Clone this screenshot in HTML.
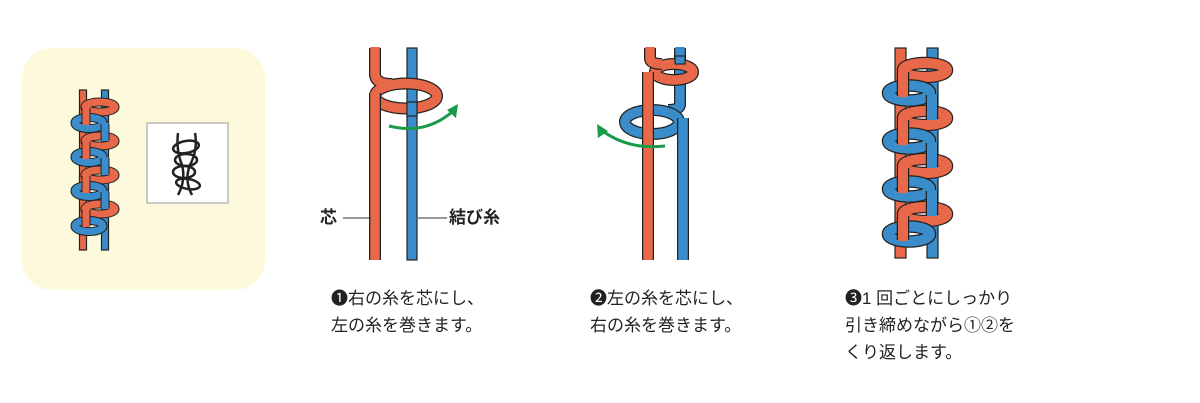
<!DOCTYPE html>
<html><head><meta charset="utf-8"><style>
body{margin:0;background:#fff;width:1200px;height:403px;overflow:hidden;font-family:"Liberation Sans","Noto Sans CJK JP",sans-serif}
svg{position:absolute;left:0;top:0}
.t{position:absolute;font-size:17px;line-height:27px;color:#222;white-space:nowrap}
</style></head><body>
<svg width="1200" height="403" viewBox="0 0 1200 403">
<defs>
<g id="rl"><ellipse rx="22" ry="7" fill="none" stroke="#222" stroke-width="12.5"/><ellipse rx="22" ry="7" fill="none" stroke="#e8694a" stroke-width="10"/></g>
<g id="bl"><ellipse rx="21" ry="7.5" fill="none" stroke="#222" stroke-width="12.5"/><ellipse rx="21" ry="7.5" fill="none" stroke="#3a8ccb" stroke-width="10"/></g>
<g id="rv"><path d="M0 2 V26" stroke="#222" stroke-width="12.5"/><path d="M0 1 V27" stroke="#e8694a" stroke-width="10"/></g>
<g id="bv"><path d="M0 2 V26" stroke="#222" stroke-width="12.5"/><path d="M0 1 V27" stroke="#3a8ccb" stroke-width="10"/></g>
<g id="srl"><ellipse rx="15" ry="5" fill="none" stroke="#222" stroke-width="9"/><ellipse rx="15" ry="5" fill="none" stroke="#e8694a" stroke-width="7"/></g>
<g id="sbl"><ellipse rx="14" ry="5.5" fill="none" stroke="#222" stroke-width="9"/><ellipse rx="14" ry="5.5" fill="none" stroke="#3a8ccb" stroke-width="7"/></g>
<g id="srv"><path d="M0 1 V17" stroke="#222" stroke-width="9"/><path d="M0 0 V18" stroke="#e8694a" stroke-width="7"/></g>
<g id="sbv"><path d="M0 1 V17" stroke="#222" stroke-width="9"/><path d="M0 0 V18" stroke="#3a8ccb" stroke-width="7"/></g>
</defs>
<rect x="22" y="48" width="243" height="242" rx="30" fill="#fdf9dc"/>
<rect x="147" y="123" width="81" height="80" fill="#fff" stroke="#999" stroke-width="1"/>
<g fill="none" stroke="#222" stroke-width="2.5">
<path d="M178 133 Q176 150 182 165 Q186 180 178 195 M195 133 Q198 150 190 165 Q184 180 192 195"/>
<ellipse cx="186" cy="147" rx="13" ry="6" transform="rotate(-10 186 147)"/><ellipse cx="186" cy="160" rx="11" ry="6"/><ellipse cx="184" cy="172" rx="11" ry="6"/><ellipse cx="188" cy="184" rx="12" ry="5" transform="rotate(10 188 184)"/>
</g>
<!-- left chain -->
<rect x="79.5" y="90" width="7" height="160" fill="#e8694a" stroke="#222" stroke-width="1.2"/>
<rect x="101.5" y="90" width="7" height="160" fill="#3a8ccb" stroke="#222" stroke-width="1.2"/>
<use href="#srl" x="100" y="107"/><use href="#srl" x="100" y="141"/><use href="#srl" x="100" y="175"/><use href="#srl" x="100" y="209"/>
<use href="#sbl" x="89" y="123"/><use href="#sbl" x="89" y="157"/><use href="#sbl" x="89" y="191"/><use href="#sbl" x="89" y="226"/>
<use href="#srv" x="86" y="107"/><use href="#srv" x="86" y="141"/><use href="#srv" x="86" y="175"/><use href="#srv" x="86" y="209"/>
<use href="#sbv" x="105" y="123"/><use href="#sbv" x="105" y="157"/><use href="#sbv" x="105" y="191"/>
<!-- step1 -->
<rect x="407" y="48" width="10" height="212" fill="#3a8ccb" stroke="#222" stroke-width="1.2"/>
<path d="M375 48 V74 Q375 84 392 84" fill="none" stroke="#222" stroke-width="12"/>
<ellipse cx="406" cy="96" rx="31" ry="12.5" fill="none" stroke="#222" stroke-width="12"/>
<ellipse cx="406" cy="96" rx="31" ry="12.5" fill="none" stroke="#e8694a" stroke-width="9.5"/>
<path d="M375 47 V74 Q375 84 392 84" fill="none" stroke="#e8694a" stroke-width="9.5"/>
<rect x="407" y="102" width="10" height="14" fill="#3a8ccb" stroke="#222" stroke-width="1.2"/>
<path d="M375 93 V260" stroke="#222" stroke-width="12"/><path d="M375 92 V260" stroke="#e8694a" stroke-width="9.5"/>
<path d="M389 126 Q425 135 452 112" fill="none" stroke="#1a9a4a" stroke-width="3"/>
<path d="M458 104 L447 110 L456 118 Z" fill="#1a9a4a"/>
<path d="M343 218 H371 M418 218 H447" stroke="#333" stroke-width="1"/>
<!-- step2 -->
<path d="M680 48 V104 Q680 110 668 110" fill="none" stroke="#222" stroke-width="12"/>
<path d="M680 47 V104 Q680 110 668 110" fill="none" stroke="#3a8ccb" stroke-width="9.5"/>
<ellipse cx="674" cy="72" rx="19" ry="8" fill="none" stroke="#222" stroke-width="12"/>
<ellipse cx="674" cy="72" rx="19" ry="8" fill="none" stroke="#e8694a" stroke-width="9.5"/>
<rect x="675" y="56" width="10" height="8" fill="#3a8ccb" stroke="#222" stroke-width="1.2"/>
<path d="M650 48 V58 Q650 64 662 64" fill="none" stroke="#222" stroke-width="12"/>
<path d="M650 47 V58 Q650 64 662 64" fill="none" stroke="#e8694a" stroke-width="9.5"/>
<ellipse cx="652" cy="122" rx="27" ry="12" fill="none" stroke="#222" stroke-width="12"/>
<ellipse cx="652" cy="122" rx="27" ry="12" fill="none" stroke="#3a8ccb" stroke-width="9.5"/>
<path d="M648 72 V260" stroke="#222" stroke-width="12"/><path d="M648 72 V260" stroke="#e8694a" stroke-width="9.5"/>
<path d="M683 118 V260" stroke="#222" stroke-width="12"/><path d="M683 118 V260" stroke="#3a8ccb" stroke-width="9.5"/>
<path d="M665 146 Q630 150 604 132" fill="none" stroke="#1a9a4a" stroke-width="3"/>
<path d="M597 124 L598 138 L608 131 Z" fill="#1a9a4a"/>
<!-- step3 -->
<rect x="895" y="48" width="11" height="210" fill="#e8694a" stroke="#222" stroke-width="1.2"/>
<rect x="927" y="48" width="11" height="210" fill="#3a8ccb" stroke="#222" stroke-width="1.2"/>
<use href="#rl" x="925" y="70"/><use href="#rl" x="925" y="118"/><use href="#rl" x="925" y="166"/><use href="#rl" x="925" y="214"/>
<use href="#bl" x="909" y="93"/><use href="#bl" x="909" y="141"/><use href="#bl" x="909" y="189"/><use href="#bl" x="909" y="234"/>
<use href="#rv" x="903" y="70"/><use href="#rv" x="903" y="118"/><use href="#rv" x="903" y="166"/><use href="#rv" x="903" y="214"/>
<use href="#bv" x="932" y="93"/><use href="#bv" x="932" y="141"/><use href="#bv" x="932" y="189"/>
</svg>
<div class="t" style="left:320px;top:204px;font-weight:bold">芯</div>
<div class="t" style="left:449px;top:204px;font-weight:bold">結び糸</div>
<div class="t" style="left:331px;top:285px">❶右の糸を芯にし、<br>左の糸を巻きます。</div>
<div class="t" style="left:590px;top:285px">❷左の糸を芯にし、<br>右の糸を巻きます。</div>
<div class="t" style="left:845px;top:285px">❸1 回ごとにしっかり<br>引き締めながら①②を<br>くり返します。</div>
</body></html>
